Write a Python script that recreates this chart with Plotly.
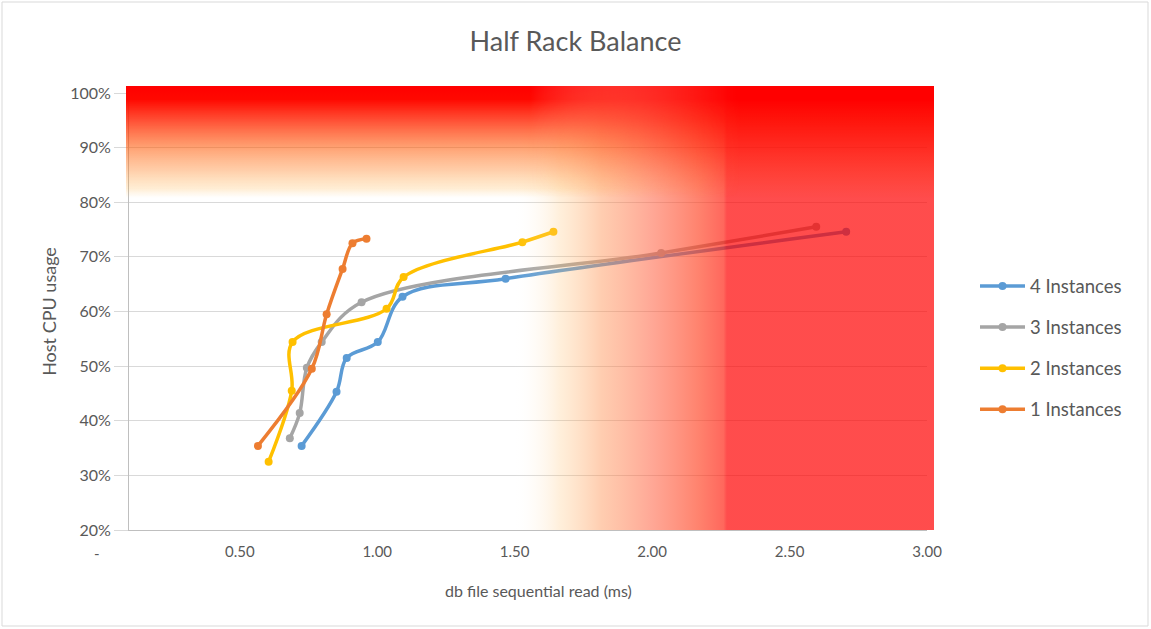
import base64
import plotly.graph_objects as go

# ---- data ----
series_names = ["4 Instances", "3 Instances", "2 Instances", "1 Instances"]
x_4 = [0.725, 0.852, 0.889, 1.002, 1.092, 1.467, 2.706]
y_4 = [0.354, 0.453, 0.515, 0.544, 0.627, 0.660, 0.746]
x_3 = [0.682, 0.718, 0.744, 0.798, 0.943, 2.033, 2.597]
y_3 = [0.368, 0.414, 0.497, 0.544, 0.617, 0.707, 0.755]
x_2 = [0.605, 0.689, 0.692, 1.034, 1.096, 1.528, 1.641]
y_2 = [0.325, 0.455, 0.544, 0.605, 0.663, 0.727, 0.746]
x_1 = [0.566, 0.762, 0.816, 0.874, 0.910, 0.961]
y_1 = [0.354, 0.495, 0.595, 0.678, 0.725, 0.733]
x_ticks = [0.5, 1.0, 1.5, 2.0, 2.5, 3.0]
y_ticks = [0.2, 0.3, 0.4, 0.5, 0.6, 0.7, 0.8, 0.9, 1.0]

colors = ["#5B9BD5", "#A5A5A5", "#FFC000", "#ED7D31"]
xs = [x_4, x_3, x_2, x_1]
ys = [y_4, y_3, y_2, y_1]

FONT = "Lato"
TXT = "#595959"
W, H = 1151, 629
L, R, T, B = 129, 1151 - 927, 93, 629 - 530
pw, ph = W - L - R, H - T - B
XMIN, XMAX = 0.097, 3.0

fig = go.Figure()
for name, x, y, c in zip(series_names, xs, ys, colors):
    fig.add_trace(go.Scatter(
        x=x, y=y, name=name, mode="lines+markers",
        line=dict(color=c, width=3.5, shape="spline", smoothing=1.0),
        marker=dict(color=c, size=8, symbol="circle"),
        legendgroup=name,
    ))

# background overlay as an svg gradient image
svg = """<svg xmlns="http://www.w3.org/2000/svg" width="808" height="444" viewBox="0 0 808 444" preserveAspectRatio="none">
<defs>
<linearGradient id="h" x1="0" y1="0" x2="1" y2="0">
<stop offset="0" stop-color="#ffffff" stop-opacity="0"/>
<stop offset="0.11" stop-color="#ffc070" stop-opacity="0.25"/>
<stop offset="0.21" stop-color="#ff9050" stop-opacity="0.45"/>
<stop offset="0.33" stop-color="#ff6040" stop-opacity="0.55"/>
<stop offset="0.44" stop-color="#ff4020" stop-opacity="0.65"/>
<stop offset="0.50" stop-color="#ff2010" stop-opacity="0.68"/>
<stop offset="0.508" stop-color="#ff0000" stop-opacity="0.7"/>
<stop offset="1" stop-color="#ff0000" stop-opacity="0.7"/>
</linearGradient>
<linearGradient id="v" x1="0" y1="0" x2="0" y2="1">
<stop offset="0" stop-color="#ff0000" stop-opacity="1"/>
<stop offset="0.12" stop-color="#ff0800" stop-opacity="1"/>
<stop offset="0.30" stop-color="#ff2000" stop-opacity="0.8"/>
<stop offset="0.55" stop-color="#ff5500" stop-opacity="0.55"/>
<stop offset="0.75" stop-color="#ff8830" stop-opacity="0.42"/>
<stop offset="0.92" stop-color="#ffb040" stop-opacity="0.22"/>
<stop offset="1" stop-color="#ffc060" stop-opacity="0"/>
</linearGradient>
<linearGradient id="vr" x1="0" y1="0" x2="0" y2="1">
<stop offset="0" stop-color="#ff0000" stop-opacity="1"/>
<stop offset="0.12" stop-color="#ff0000" stop-opacity="1"/>
<stop offset="0.30" stop-color="#ff0a00" stop-opacity="0.85"/>
<stop offset="0.55" stop-color="#ff1000" stop-opacity="0.55"/>
<stop offset="0.80" stop-color="#ff2000" stop-opacity="0.25"/>
<stop offset="1" stop-color="#ff3000" stop-opacity="0"/>
</linearGradient>
<linearGradient id="mlg" x1="0" y1="0" x2="1" y2="0">
<stop offset="0" stop-color="#ffffff"/>
<stop offset="0.50" stop-color="#ffffff"/>
<stop offset="0.76" stop-color="#000000"/>
<stop offset="1" stop-color="#000000"/>
</linearGradient>
<linearGradient id="mrg" x1="0" y1="0" x2="1" y2="0">
<stop offset="0" stop-color="#000000"/>
<stop offset="0.50" stop-color="#000000"/>
<stop offset="0.76" stop-color="#ffffff"/>
<stop offset="1" stop-color="#ffffff"/>
</linearGradient>
<mask id="ml" maskUnits="userSpaceOnUse" x="0" y="0" width="808" height="112">
<rect x="0" y="0" width="808" height="112" fill="url(#mlg)"/>
</mask>
<mask id="mr" maskUnits="userSpaceOnUse" x="0" y="0" width="808" height="112">
<rect x="0" y="0" width="808" height="112" fill="url(#mrg)"/>
</mask>
</defs>
<rect x="387" y="0" width="421" height="444" fill="url(#h)"/>
<rect x="0" y="0" width="808" height="112" fill="url(#vr)" mask="url(#mr)"/>
<rect x="0" y="0" width="808" height="112" fill="url(#v)" mask="url(#ml)"/>
</svg>"""
src = "data:image/svg+xml;base64," + base64.b64encode(svg.encode()).decode()
fig.add_layout_image(dict(
    source=src, xref="paper", yref="paper",
    x=(126 - L) / pw, y=(530 - 86) / ph,
    sizex=808 / pw, sizey=444 / ph,
    xanchor="left", yanchor="top", sizing="stretch", layer="above",
))

# chart-area border
fig.add_shape(type="rect", xref="paper", yref="paper",
              x0=(2 - L) / pw, x1=(W - 3 - L) / pw,
              y0=-(H - 3 - T - ph) / ph, y1=(T - 2) / ph + 1,
              line=dict(color="#D9D9D9", width=1), layer="below")

# "-" label for zero on the x axis (outside the visible range, as in the reference)
fig.add_annotation(x=(0 - XMIN) / (XMAX - XMIN), y=0, xref="paper", yref="paper",
                   text="-", showarrow=False, yanchor="middle", yshift=-23, xshift=-10,
                   font=dict(family=FONT, size=15, color=TXT))

# x-axis title (slightly right of the plot centre, as in the reference)
fig.add_annotation(x=(538 - L) / pw, y=-(590 - 530) / ph, xref="paper", yref="paper",
                   text="db file sequential read (ms)", showarrow=False,
                   xanchor="center", yanchor="middle",
                   font=dict(family=FONT, size=16, color=TXT))

fig.update_layout(
    width=W, height=H,
    margin=dict(l=L, r=R, t=T, b=B),
    paper_bgcolor="white", plot_bgcolor="white",
    title=dict(text="Half Rack Balance", x=0.5, xref="container", xanchor="center",
               y=1 - 42 / H, yref="container", yanchor="middle",
               font=dict(family=FONT, size=27, color=TXT)),
    font=dict(family=FONT, color=TXT),
    showlegend=True,
    legend=dict(x=(975 - L) / pw, y=(530 - 348) / ph, xanchor="left", yanchor="middle",
                font=dict(family=FONT, size=18.5, color=TXT), itemwidth=45,
                traceorder="grouped", tracegroupgap=14, bgcolor="rgba(0,0,0,0)"),
    xaxis=dict(range=[XMIN, XMAX], tickvals=x_ticks, tickformat=".2f",
               showgrid=False, zeroline=False, showline=True, linecolor="#BFBFBF",
               linewidth=1, ticks="", ticklabelstandoff=8,
               tickfont=dict(family=FONT, size=15, color=TXT)),
    yaxis=dict(range=[0.2, 1.0], tickvals=y_ticks, tickformat=".0%",
               showgrid=True, gridcolor="#D9D9D9", gridwidth=1, zeroline=False,
               showline=True, linecolor="#BFBFBF", linewidth=1,
               ticks="outside", ticklen=14, tickcolor="#D9D9D9",
               tickfont=dict(family=FONT, size=16, color=TXT),
               title=dict(text="Host CPU usage", standoff=8,
                          font=dict(family=FONT, size=18, color=TXT))),
)

fig.write_html("out.html", config={"displayModeBar": False},
               post_script="document.body.style.margin='0px';")
